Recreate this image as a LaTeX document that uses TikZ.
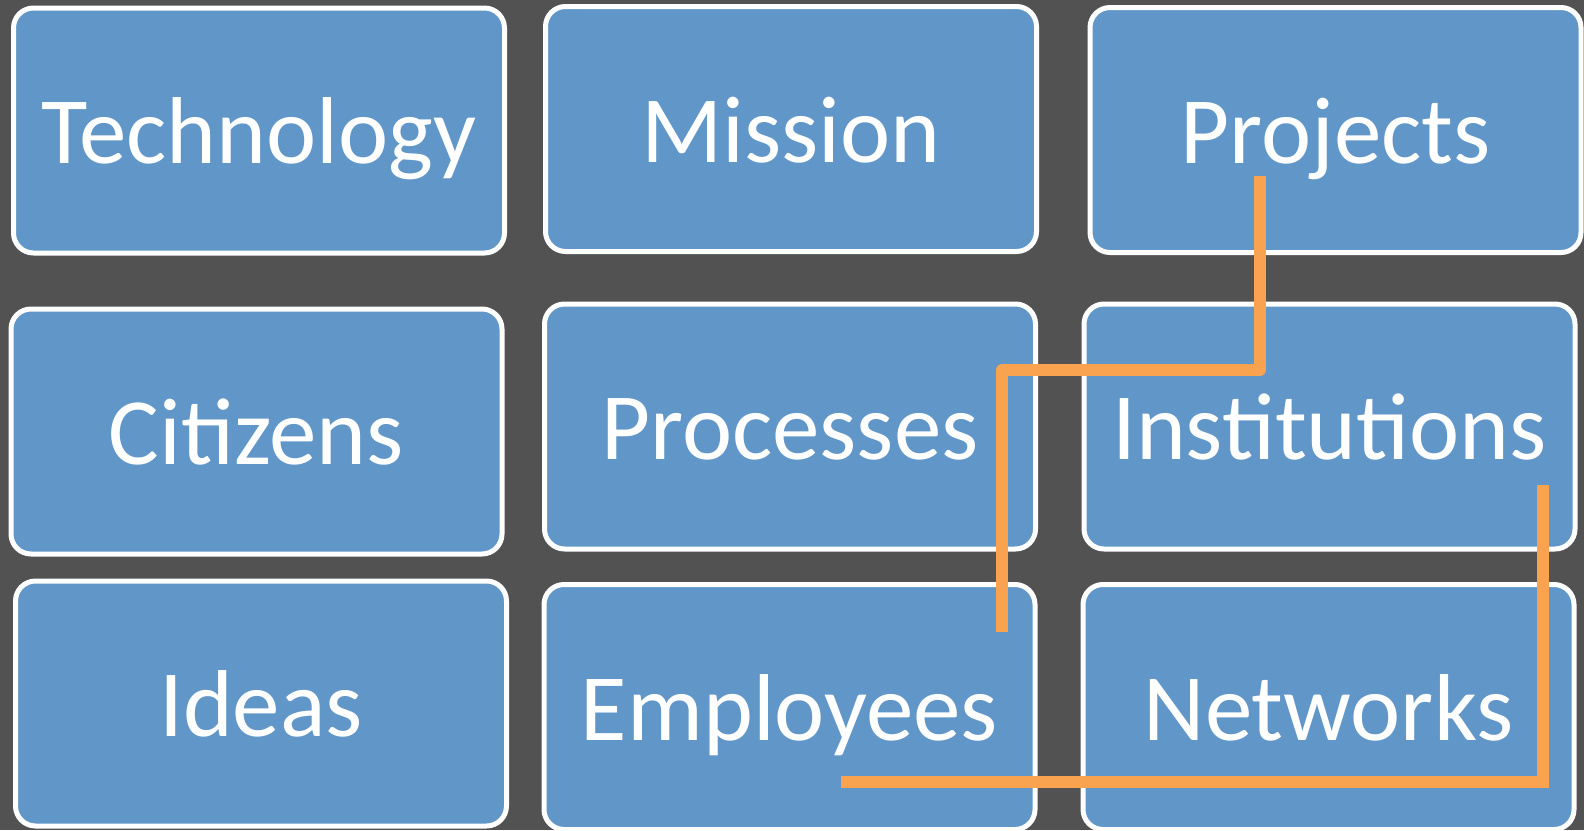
\documentclass[tikz,border=0pt]{standalone}
\usepackage{fontspec}
\setmainfont{Carlito}
\usetikzlibrary{positioning}
\definecolor{slate}{HTML}{525252}
\definecolor{tileblue}{HTML}{6196C8}
\definecolor{trail}{HTML}{F9A24F}
\begin{document}
\begin{tikzpicture}[x=0.5pt, y=-0.5pt,
    tile/.style={draw=white, line width=2.5pt, fill=tileblue, rounded corners=10pt,
      minimum width=245.5pt, minimum height=122.5pt, inner sep=0pt, text=white,
      font=\fontsize{47.5}{50}\selectfont, text height=33pt, text depth=0pt},
    trailline/.style={draw=trail, line width=6pt}]
  \fill[slate] (0,0) rectangle (1584,830);
  \useasboundingbox (0,0) rectangle (1584,830);
  \node[tile] (tech) at (259,130.5) {Technology};
  \node[tile] (miss) at (791,129) {Mission};
  \node[tile] (proj) at (1335.5,130) {Projects};
  \node[tile] (citi) at (256.5,431.5) {Citizens};
  \node[tile] (proc) at (790,426.5) {Processes};
  \node[tile] (inst) at (1329.5,426.5) {Institutions};
  \node[tile] (idea) at (261,703.5) {Ideas};
  \node[tile] (empl) at (789.5,707) {Employees};
  \node[tile] (netw) at (1328.5,707) {Networks};
  \coordinate (a1) at (1259.5,176);
  \coordinate (a2) at (1002,370);
  \coordinate (a3) at (1002,632);
  \coordinate (b1) at (1543,485);
  \coordinate (b2) at (841,782);
  \draw[trailline, line join=round] (a1) |- (a2) -- (a3);
  \draw[trailline] (b1) |- (b2);
\end{tikzpicture}
\end{document}
